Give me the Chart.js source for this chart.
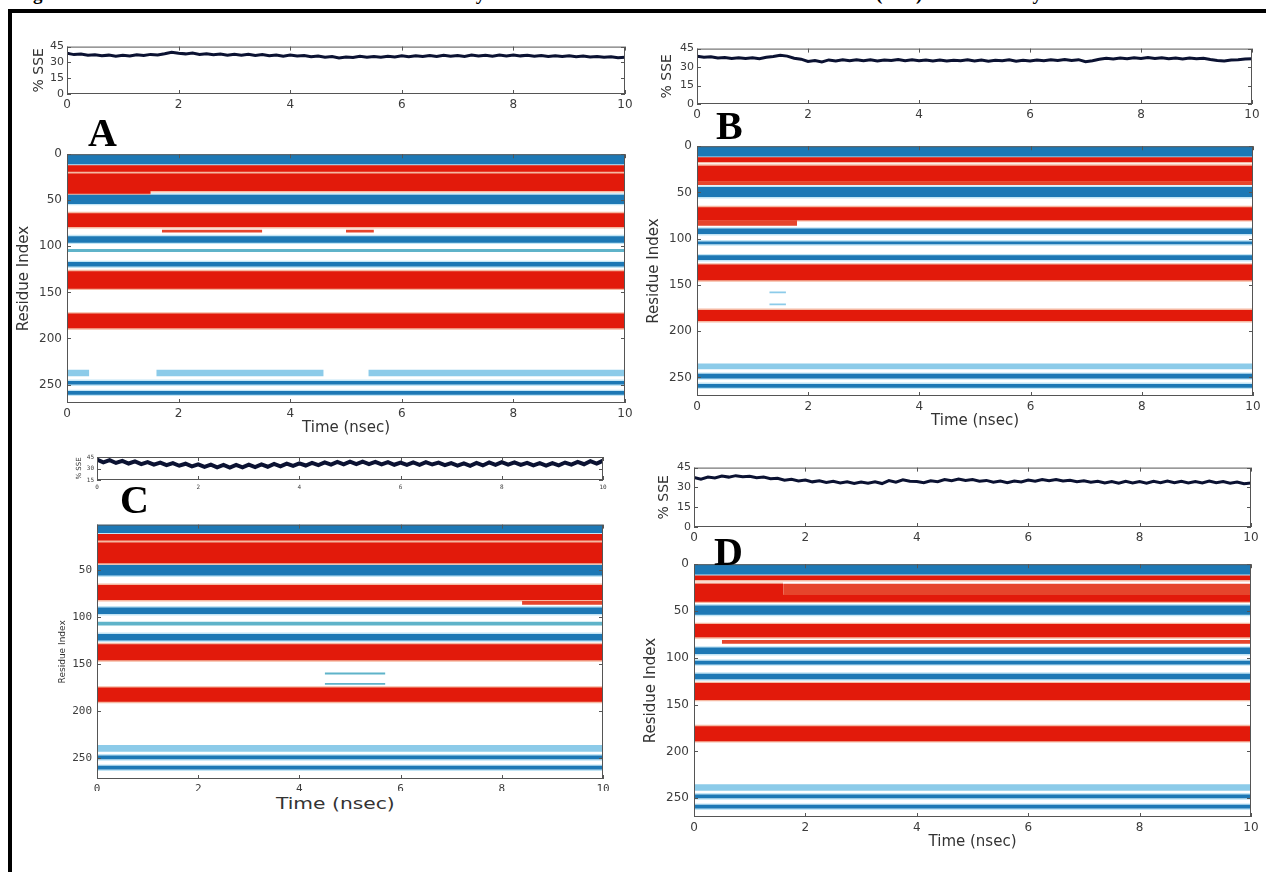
<!DOCTYPE html>
<html>
<head>
<meta charset="utf-8">
<script src="https://cdn.jsdelivr.net/npm/chart.js@4.4.1/dist/chart.umd.min.js"></script>
<style>
  body { margin:0; background:#fff; width:1266px; height:872px; overflow:hidden; position:relative; font-family:"DejaVu Sans", sans-serif; }
  .caja { position:absolute; }
  #marco { position:absolute; left:8px; top:9px; width:1300px; height:900px; border:4px solid #000; border-right:none; border-bottom:none; pointer-events:none; }
  #titulo { position:absolute; left:16px; top:-16px; font:bold 19px/20px "Liberation Serif", serif; white-space:nowrap; }
  .letra { position:absolute; font:bold 40px/40px "Liberation Serif", serif; color:#000; }
  #tiempoC { position:absolute; left:276px; top:795px; font:15px "DejaVu Sans", sans-serif; color:#333; transform:scaleX(1.35); transform-origin:left top; white-space:nowrap; }
</style>
</head>
<body>
<div id="titulo">Figure 6. Predicted SSE: The evolutation of the secondary structure conformations of the MD simulations (SSE) for the four systems</div>

<div class="caja" id="cSseA"><canvas id="sseA"></canvas></div>
<div class="caja" id="cSseB"><canvas id="sseB"></canvas></div>
<div class="caja" id="cSseC"><canvas id="sseC"></canvas></div>
<div class="caja" id="cSseD"><canvas id="sseD"></canvas></div>
<div class="caja" id="cResA"><canvas id="resA"></canvas></div>
<div class="caja" id="cResB"><canvas id="resB"></canvas></div>
<div class="caja" id="cResC"><canvas id="resC"></canvas></div>
<div class="caja" id="cResD"><canvas id="resD"></canvas></div>

<div class="letra" style="left:88px;top:113px;">A</div>
<div class="letra" style="left:716px;top:106px;">B</div>
<div class="letra" style="left:120px;top:480px;">C</div>
<div class="letra" style="left:714px;top:532px;">D</div>
<div id="tiempoC">Time (nsec)</div>
<div id="marco"></div>

<script>
// tiempo de simulacion (nsec)
const tiempo = [0,0.125,0.25,0.375,0.5,0.625,0.75,0.875,1,1.125,1.25,1.375,1.5,1.625,1.75,1.875,
  2,2.125,2.25,2.375,2.5,2.625,2.75,2.875,3,3.125,3.25,3.375,3.5,3.625,3.75,3.875,
  4,4.125,4.25,4.375,4.5,4.625,4.75,4.875,5,5.125,5.25,5.375,5.5,5.625,5.75,5.875,
  6,6.125,6.25,6.375,6.5,6.625,6.75,6.875,7,7.125,7.25,7.375,7.5,7.625,7.75,7.875,
  8,8.125,8.25,8.375,8.5,8.625,8.75,8.875,9,9.125,9.25,9.375,9.5,9.625,9.75,9.875,10];

// % SSE de cada sistema
const sseA = [38.6,37.4,37.9,36.8,37.2,36.3,36.9,35.9, 36.7,36.1,37.3,36.5,37.6,37.1,38.3,39.7,
  38.7,38.1,38.8,37.6,38.3,37.2,37.9,36.7, 37.7,36.9,37.8,36.6,37.4,36.3,37.1,35.9,
  36.9,36.0,36.5,35.3,36.1,34.8,35.5,34.3, 35.2,34.6,35.8,35.0,35.7,34.8,35.8,35.1,
  36.2,35.4,36.4,35.6,36.6,35.7,36.8,35.9, 36.6,35.7,36.9,36.1,36.8,35.9,36.9,36.1,
  37.0,36.2,36.7,35.8,36.6,35.7,36.4,35.5, 36.3,35.4,36.0,35.1,35.7,34.8,35.3,34.4, 34.9];
const sseB = [38.8,37.9,38.4,37.3,37.8,37.0,37.6,36.9, 37.5,36.8,37.9,38.6,39.6,38.9,37.2,36.4,
  34.6,35.4,34.2,35.8,34.9,35.9,35.1,36.0, 35.2,35.9,35.0,35.8,35.3,36.1,35.2,35.9,
  35.1,35.8,35.0,35.7,34.9,35.6,35.2,35.9, 34.9,35.7,34.8,35.6,35.1,35.9,34.7,35.5,
  35.0,35.8,35.2,35.9,35.3,36.1,35.4,36.0, 34.3,35.2,36.3,37.1,36.6,37.4,36.8,37.6,
  37.0,37.7,36.9,37.5,36.8,37.4,36.6,37.3, 36.7,37.2,36.1,35.4,34.9,35.7,35.9,36.6, 36.8];
const sseC = [41.5,38.0,40.8,37.2,39.9,36.5,39.2,35.8, 38.4,35.1,37.6,34.3,36.9,33.6,36.2,32.8,
  35.5,32.2,35.0,31.6,34.6,31.2,34.8,31.5, 35.1,31.9,35.4,32.3,35.9,32.8,36.4,33.4,
  36.8,33.9,37.3,34.5,37.9,35.0,38.6,35.4, 38.9,35.6,39.0,35.8,38.6,35.3,38.2,34.9,
  37.8,34.6,37.9,34.8,38.3,35.2,37.6,34.3, 37.0,33.8,36.8,33.5,37.2,34.0,37.9,34.7,
  38.4,35.1,38.0,34.6,37.4,34.0,36.9,33.7, 37.1,34.2,37.8,35.0,38.7,35.6,39.5,36.4, 40.2];
const sseD = [37.6,36.3,37.9,37.1,38.6,37.8,38.9,38.1, 38.5,37.4,37.8,36.5,36.9,35.4,36.1,34.8,
  35.6,34.2,35.0,33.8,34.6,33.4,34.3,33.0, 34.1,33.2,34.3,32.9,35.2,34.0,35.8,34.6,
  34.4,33.5,35.0,34.3,35.9,35.1,36.3,35.2, 35.9,34.6,35.3,33.9,34.8,33.6,34.9,34.1,
  35.6,34.7,36.0,35.0,35.9,34.8,35.4,34.3, 35.0,33.9,34.7,33.4,34.5,33.1,34.6,33.3,
  34.4,33.2,34.6,33.5,34.9,33.6,34.7,33.3, 34.5,33.4,34.8,33.5,34.4,33.2,34.1,32.8, 33.4];

const ticksTiempo = [0, 2, 4, 6, 8, 10];
const ticksSse = [0, 15, 30, 45];
const ticksResiduo = [0, 50, 100, 150, 200, 250];
const ticksResiduoC = [50, 100, 150, 200, 250];

// bandas de estructura secundaria: [t inicio, t fin, residuo inicio, residuo fin, tipo]
// H = helice, E = hebra, h = helice parcial, e = hebra parcial, c = hebra tenue
const bandasA = [
  [0,10,0,11,'E'], [0,10,12,19,'H'], [0,10,21,40,'H'], [0,1.5,40,43,'H'],
  [0,10,44,54,'E'], [0,10,64,79,'H'], [1.7,3.5,82,85,'h'], [5.0,5.5,82,85,'h'],
  [0,10,89,96,'E'], [0,10,103,106,'c'], [0,10,117,122,'E'], [0,10,127,146,'H'],
  [0,10,173,189,'H'], [0,0.4,234,241,'e'], [1.6,4.6,234,241,'e'], [5.4,10,234,241,'e'],
  [0,10,246,250,'E'], [0,10,257,261,'E']
];
const bandasB = [
  [0,10,0,11,'E'], [0,10,12,17,'H'], [0,10,21,38,'H'], [0,10,38,42,'h'],
  [0,10,44,55,'E'], [0,10,66,80,'H'], [0,1.8,80,86,'h'], [0,10,89,95,'E'],
  [0,10,103,106,'E'], [0,10,118,123,'E'], [0,10,128,145,'H'], [1.3,1.6,157,159,'e'],
  [1.3,1.6,170,172,'e'], [0,10,177,189,'H'], [0,10,235,241,'e'], [0,10,246,251,'E'],
  [0,10,257,261,'E']
];
const bandasC = [
  [0,10,2,11,'E'], [0,10,12,19,'H'], [0,10,21,43,'H'], [0,10,45,56,'E'],
  [0,10,66,82,'H'], [8.4,10,83,87,'h'], [0,10,90,97,'E'], [0,10,105,109,'c'],
  [0,10,118,125,'E'], [0,10,129,146,'H'], [4.5,5.7,159,161,'c'], [4.5,5.7,170,172,'c'],
  [0,10,175,190,'H'], [0,10,236,243,'e'], [0,10,247,251,'E'], [0,10,258,262,'E']
];
const bandasD = [
  [0,10,0,11,'E'], [0,10,12,17,'H'], [0,1.6,21,33,'H'], [1.6,10,21,33,'h'],
  [0,10,33,40,'H'], [0,10,44,54,'E'], [0,10,64,78,'H'], [0.5,10,81,85,'h'],
  [0,10,89,96,'E'], [0,10,103,107,'E'], [0,10,117,123,'E'], [0,10,127,145,'H'],
  [0,10,173,189,'H'], [0,10,235,242,'e'], [0,10,246,250,'E'], [0,10,257,261,'E']
];

const colorBanda = { H: '#e21a0b', E: '#1d78b5', h: '#e6452c', e: '#8ccbe9', c: '#5fb3c9' };
const colorBorde = { H: '#f5b8a2', E: '#c3e5f5' };

// marco completo y marcas hacia adentro (estilo matplotlib)
const marcoPlugin = {
  id: 'marco',
  afterDraw(chart) {
    const { ctx, chartArea: a, scales } = chart;
    ctx.save();
    ctx.strokeStyle = '#555';
    ctx.lineWidth = 1;
    ctx.strokeRect(a.left + 0.5, a.top + 0.5, a.width - 1, a.height - 1);
    const L = 4;
    ctx.beginPath();
    scales.x.ticks.forEach(t => {
      const px = Math.round(scales.x.getPixelForValue(t.value)) + 0.5;
      ctx.moveTo(px, a.bottom); ctx.lineTo(px, a.bottom - L);
      ctx.moveTo(px, a.top); ctx.lineTo(px, a.top + L);
    });
    scales.y.ticks.forEach(t => {
      const py = Math.round(scales.y.getPixelForValue(t.value)) + 0.5;
      ctx.moveTo(a.left, py); ctx.lineTo(a.left + L, py);
      ctx.moveTo(a.right, py); ctx.lineTo(a.right - L, py);
    });
    ctx.stroke();
    ctx.restore();
  }
};
Chart.register(marcoPlugin);

function colocar(id, g) {
  const pt = 8, pr = 14;
  const el = document.getElementById(id);
  el.style.left = (g.x0 - g.yW) + 'px';
  el.style.top = (g.y0 - pt) + 'px';
  el.style.width = (g.x1 - g.x0 + g.yW + pr) + 'px';
  el.style.height = (g.y1 - g.y0 + pt + g.xH) + 'px';
  return { top: pt, right: pr, left: 0, bottom: 0 };
}

function ejeX(g, titulo, fuente) {
  return {
    type: 'linear', min: 0, max: 10,
    afterBuildTicks: s => { s.ticks = ticksTiempo.map(v => ({ value: v })); },
    afterFit: s => { s.height = g.xH; },
    grid: { display: false, drawTicks: false },
    border: { display: false },
    ticks: { autoSkip: false, maxRotation: 0, padding: 4, color: '#3c3c3c', font: fuente || { family: 'DejaVu Sans', size: 12 } },
    title: { display: !!titulo, text: titulo, color: '#333', padding: { top: 0 },
             font: { family: 'DejaVu Sans', size: 15 } }
  };
}

function graficoSse(id, cajaId, valores, g, rango, fuenteT, tituloY) {
  const padding = colocar(cajaId, g);
  new Chart(document.getElementById(id), {
    type: 'line',
    data: {
      labels: tiempo,
      datasets: [{
        data: tiempo.map((t, i) => ({ x: t, y: valores[i] })),
        borderColor: '#0b1232', borderWidth: g.lw || 3, pointRadius: 0, tension: 0
      }]
    },
    options: {
      animation: false, responsive: true, maintainAspectRatio: false,
      layout: { padding },
      plugins: { legend: { display: false }, tooltip: { enabled: false } },
      scales: {
        x: ejeX(g, '', fuenteT),
        y: {
          min: rango[0], max: rango[1],
          afterBuildTicks: s => { s.ticks = ticksSse.filter(v => v >= rango[0]).map(v => ({ value: v })); },
          afterFit: s => { s.width = g.yW; },
          grid: { display: false, drawTicks: false },
          border: { display: false },
          ticks: { autoSkip: false, padding: 3, color: '#3c3c3c', font: fuenteT || { family: 'DejaVu Sans', size: 11 } },
          title: { display: true, text: tituloY, color: '#333', padding: 0,
                   font: { family: 'DejaVu Sans', size: g.tf || 14 } }
        }
      }
    }
  });
}

function graficoBandas(id, cajaId, bandas, g, rango, ticksY, fuenteT, tituloX) {
  const padding = colocar(cajaId, g);
  const datasets = [];
  bandas.forEach(b => {
    const [t0, t1, r0, r1, tipo] = b;
    if (colorBorde[tipo]) {
      datasets.push({
        data: [{ x: t0, y: r1 + 1.5 }, { x: t1, y: r1 + 1.5 }],
        fill: { value: r0 - 1.5 }, backgroundColor: colorBorde[tipo],
        borderWidth: 0, pointRadius: 0, order: 2
      });
    }
    datasets.push({
      data: [{ x: t0, y: r1 }, { x: t1, y: r1 }],
      fill: { value: r0 }, backgroundColor: colorBanda[tipo],
      borderWidth: 0, pointRadius: 0, order: 1
    });
  });
  new Chart(document.getElementById(id), {
    type: 'line',
    data: { datasets },
    options: {
      animation: false, responsive: true, maintainAspectRatio: false,
      layout: { padding },
      plugins: { legend: { display: false }, tooltip: { enabled: false } },
      scales: {
        x: ejeX(g, tituloX, fuenteT),
        y: {
          reverse: true, min: rango[0], max: rango[1],
          afterBuildTicks: s => { s.ticks = ticksY.map(v => ({ value: v })); },
          afterFit: s => { s.width = g.yW; },
          grid: { display: false, drawTicks: false },
          border: { display: false },
          ticks: { autoSkip: false, padding: 5, color: '#3c3c3c', font: fuenteT || { family: 'DejaVu Sans', size: 12 } },
          title: { display: true, text: 'Residue Index', color: '#333', padding: 0,
                   font: { family: 'DejaVu Sans', size: g.tf || 15 } }
        }
      }
    }
  });
}

const fuenteC = { family: 'DejaVu Sans Mono', size: 11 };

graficoSse('sseA', 'cSseA', sseA, { x0: 67, y0: 45, x1: 625, y1: 94, yW: 36, xH: 14 }, [0, 45], null, '% SSE');
graficoSse('sseB', 'cSseB', sseB, { x0: 697, y0: 47, x1: 1252, y1: 104, yW: 38, xH: 14 }, [0, 45], null, '% SSE');
graficoSse('sseC', 'cSseC', sseC, { x0: 97, y0: 457, x1: 603, y1: 480, yW: 22, xH: 10, lw: 4, tf: 7 }, [15, 45],
  { family: 'DejaVu Sans Mono', size: 6 }, '% SSE');
graficoSse('sseD', 'cSseD', sseD, { x0: 694, y0: 466, x1: 1251, y1: 527, yW: 38, xH: 14 }, [0, 45], null, '% SSE');

graficoBandas('resA', 'cResA', bandasA, { x0: 67, y0: 150, x1: 625, y1: 403, yW: 52, xH: 38 }, [0, 270], ticksResiduo, null, 'Time (nsec)');
graficoBandas('resB', 'cResB', bandasB, { x0: 697, y0: 142, x1: 1253, y1: 396, yW: 52, xH: 38 }, [0, 270], ticksResiduo, null, 'Time (nsec)');
graficoBandas('resC', 'cResC', bandasC, { x0: 97, y0: 521, x1: 603, y1: 779, yW: 40, xH: 12, tf: 9 }, [2, 272], ticksResiduoC, fuenteC, '');
graficoBandas('resD', 'cResD', bandasD, { x0: 694, y0: 560, x1: 1251, y1: 817, yW: 52, xH: 38 }, [0, 270], ticksResiduo, null, 'Time (nsec)');
</script>
</body>
</html>
